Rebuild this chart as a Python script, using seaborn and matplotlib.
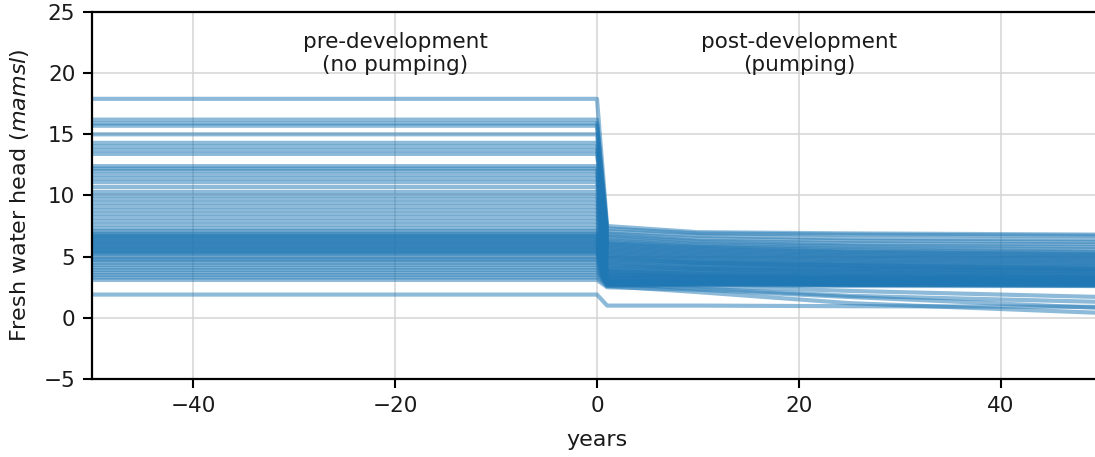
import numpy as np
import pandas as pd
import matplotlib
matplotlib.use("Agg")
import matplotlib.pyplot as plt
import seaborn as sns

# Time axis: pre-development spans -50..0, pumping starts after year 0
years = [-50, 0, 1, 10, 25, 50]

# Pre-development (steady) heads per well, m amsl
pre_head = [17.9, 16.2, 15.9, 15.7, 15.0, 14.3, 14.0, 13.7, 13.4, 12.4,
            12.2, 12.0, 11.7, 11.4, 11.1, 10.7, 10.3, 10.0, 9.7, 9.4,
            9.1, 8.8, 8.5, 8.2, 7.9, 7.6, 7.3, 7.1, 6.9, 6.8,
            6.7, 6.6, 6.5, 6.4, 6.3, 6.2, 6.1, 6.0, 5.9, 5.8,
            5.7, 5.6, 5.5, 5.4, 5.3, 5.2, 5.0, 4.8, 4.7, 4.5,
            4.3, 4.1, 3.9, 3.7, 3.5, 3.3, 3.1, 1.9]

# Post-development heads at years 1, 10, 25 and 50
head_y1 = [7.5, 7.3, 7.1, 6.9, 6.8, 6.6, 6.5, 6.3, 6.2, 6.1,
           6.0, 5.9, 5.8, 5.7, 5.6, 5.5, 5.4, 5.3, 5.2, 5.1,
           5.0, 4.9, 4.8, 4.7, 4.6, 4.5, 4.4, 4.3, 4.2, 4.1,
           4.0, 3.9, 3.8, 3.8, 3.7, 3.6, 3.5, 3.5, 3.4, 3.3,
           3.3, 3.2, 3.1, 3.1, 3.0, 3.0, 2.9, 2.9, 2.8, 2.8,
           2.7, 2.7, 2.6, 2.9, 2.8, 2.6, 2.5, 1.0]
head_y10 = [7.0, 6.9, 6.7, 6.5, 6.3, 6.2, 6.0, 5.9, 5.8, 5.7,
            5.6, 5.5, 5.4, 5.3, 5.2, 5.1, 5.0, 4.9, 4.8, 4.7,
            4.6, 4.5, 4.5, 4.4, 4.3, 4.2, 4.1, 4.0, 4.0, 3.9,
            3.8, 3.7, 3.6, 3.6, 3.5, 3.4, 3.4, 3.3, 3.3, 3.2,
            3.2, 3.1, 3.0, 3.0, 2.9, 2.9, 2.9, 2.9, 2.8, 2.8,
            2.8, 2.7, 2.7, 2.6, 2.4, 2.1, 2.3, 1.0]
head_y25 = [6.9, 6.8, 6.5, 6.3, 6.1, 5.9, 5.8, 5.6, 5.5, 5.4,
            5.3, 5.2, 5.1, 5.0, 4.9, 4.8, 4.7, 4.6, 4.5, 4.4,
            4.3, 4.3, 4.2, 4.1, 4.0, 4.0, 3.9, 3.8, 3.7, 3.7,
            3.6, 3.5, 3.4, 3.4, 3.3, 3.3, 3.2, 3.2, 3.1, 3.1,
            3.0, 3.0, 2.9, 2.9, 2.8, 2.8, 2.8, 2.8, 2.7, 2.7,
            2.7, 2.7, 2.6, 2.2, 1.8, 1.2, 1.7, 0.95]
head_y50 = [6.8, 6.7, 6.4, 6.2, 6.0, 5.8, 5.6, 5.4, 5.3, 5.2,
            5.1, 5.0, 4.9, 4.8, 4.7, 4.6, 4.5, 4.4, 4.3, 4.2,
            4.1, 4.0, 4.0, 3.9, 3.8, 3.8, 3.7, 3.6, 3.5, 3.5,
            3.4, 3.3, 3.3, 3.2, 3.2, 3.1, 3.1, 3.0, 3.0, 2.9,
            2.9, 2.9, 2.8, 2.8, 2.8, 2.8, 2.8, 2.8, 2.7, 2.7,
            2.7, 2.6, 2.6, 1.7, 1.3, 0.4, 0.8, 0.9]

x_ticks = [-40, -20, 0, 20, 40]
y_ticks = [-5, 0, 5, 10, 15, 20, 25]

records = []
for w, (p, a, b, c, d) in enumerate(zip(pre_head, head_y1, head_y10, head_y25, head_y50)):
    for yr, h in zip(years, [p, p, a, b, c, d]):
        records.append({"well": w, "year": yr, "head": h})
df = pd.DataFrame(records)

sns.set_style("ticks")
plt.rcParams["font.family"] = ["DejaVu Sans"]
plt.rcParams["mathtext.fontset"] = "dejavusans"

fig = plt.figure(figsize=(10.95, 4.57), dpi=100)
ax = fig.add_axes([0.0840, 0.1707, 0.9224, 0.8031])

sns.lineplot(data=df, x="year", y="head", units="well", estimator=None,
             color="#1f77b4", alpha=0.5, linewidth=3.0, ax=ax, legend=False)

ax.set_xlim(-50, 50)
ax.set_ylim(-5, 25)
ax.set_xticks(x_ticks)
ax.set_yticks(y_ticks)
ax.grid(True, color="#d4d4d4", linewidth=1.1)
ax.set_axisbelow(True)
for s in ax.spines.values():
    s.set_color("black")
    s.set_linewidth(1.6)
ax.tick_params(axis="both", labelsize=15.5, length=6.5, width=1.5, color="black",
               labelcolor="#1a1a1a", pad=5.5)
ax.set_xlabel("years", fontsize=16, color="#1a1a1a", labelpad=10)
ax.set_ylabel("Fresh water head ($\\mathit{mamsl}$)", fontsize=16, color="#1a1a1a",
              labelpad=9)

ax.text(-20, 21.6, "pre-development\n(no pumping)", ha="center", va="center",
        fontsize=15.5, color="#1a1a1a", linespacing=1.15)
ax.text(20, 21.6, "post-development\n(pumping)", ha="center", va="center",
        fontsize=15.5, color="#1a1a1a", linespacing=1.15)

fig.savefig("out.png", dpi=100)
